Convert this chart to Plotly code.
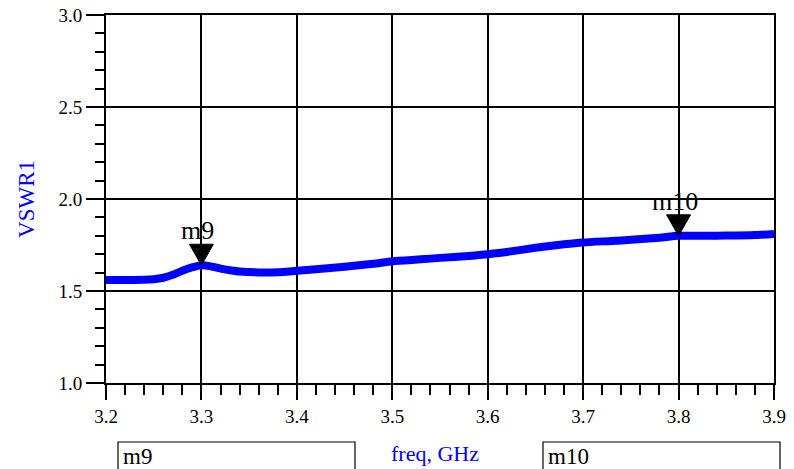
import plotly.graph_objects as go

freq = [3.20, 3.22, 3.24, 3.25, 3.26, 3.27, 3.28, 3.29, 3.30, 3.31, 3.32, 3.33, 3.34, 3.36, 3.38,
        3.40, 3.42, 3.45, 3.48, 3.50, 3.53, 3.55, 3.58, 3.60, 3.62, 3.65, 3.68, 3.70, 3.73, 3.75,
        3.78, 3.80, 3.83, 3.85, 3.88, 3.90]
vswr = [1.560, 1.560, 1.561, 1.564, 1.572, 1.588, 1.610, 1.628, 1.640, 1.634, 1.622, 1.613, 1.606, 1.601, 1.602,
        1.610, 1.618, 1.632, 1.648, 1.662, 1.672, 1.680, 1.690, 1.700, 1.712, 1.735, 1.754, 1.764, 1.772, 1.778,
        1.790, 1.800, 1.800, 1.801, 1.804, 1.810]

markers = [("m9", 3.30), ("m10", 3.80)]
xticks = [3.2, 3.3, 3.4, 3.5, 3.6, 3.7, 3.8, 3.9]
yticks = [1.0, 1.5, 2.0, 2.5, 3.0]

W, H = 794, 469
L, R, T, B = 106, 20, 15, 86
pw, ph = W - L - R, H - T - B

def px_to_paper_x(px):
    return (px - L) / pw

def px_to_paper_y(py):
    return (H - B - py) / ph

serif = "Liberation Serif, Times New Roman, serif"

fig = go.Figure()
fig.add_trace(go.Scatter(x=freq, y=vswr, mode="lines",
                         line=dict(color="#0000FF", width=8, shape="spline", smoothing=0.6),
                         showlegend=False))

shapes = []
annotations = []
for name, fx in markers:
    i = freq.index(fx)
    fy = vswr[i]
    shapes.append(dict(type="path", xref="x", yref="y", xsizemode="pixel", ysizemode="pixel",
                       xanchor=fx, yanchor=fy,
                       path="M -12 21 L 12 21 L 0 0 Z",
                       fillcolor="black", line=dict(color="black", width=1)))
    annotations.append(dict(x=fx, y=fy, xref="x", yref="y", text=name, showarrow=False,
                            yanchor="bottom", yshift=18, xshift=-4,
                            font=dict(family=serif, size=26, color="black")))

# marker readout boxes below the plot
boxes = [("m9", 118, 355), ("m10", 543, 780)]
for name, x0, x1 in boxes:
    shapes.append(dict(type="rect", xref="paper", yref="paper",
                       x0=px_to_paper_x(x0), x1=px_to_paper_x(x1),
                       y0=px_to_paper_y(442), y1=px_to_paper_y(480),
                       line=dict(color="black", width=1.2), fillcolor="white", layer="above"))
    annotations.append(dict(x=px_to_paper_x(x0 + 3), y=px_to_paper_y(456), xref="paper", yref="paper",
                            text=name, showarrow=False, xanchor="left", yanchor="middle",
                            font=dict(family=serif, size=23, color="black")))

annotations.append(dict(x=px_to_paper_x(435), y=px_to_paper_y(454), xref="paper", yref="paper",
                        text="freq, GHz", showarrow=False, xanchor="center", yanchor="middle",
                        font=dict(family=serif, size=22, color="#0000FF")))

fig.update_layout(
    width=W, height=H,
    margin=dict(l=L, r=R, t=T, b=B, autoexpand=False),
    plot_bgcolor="white", paper_bgcolor="white",
    shapes=shapes, annotations=annotations,
    font=dict(family=serif, size=19, color="black"),
)
fig.update_xaxes(range=[3.2, 3.9], tickvals=xticks, ticktext=[f"{v:.1f}" for v in xticks],
                 showgrid=True, gridcolor="black", gridwidth=2,
                 showline=True, linecolor="black", linewidth=2, mirror=True,
                 ticks="outside", ticklen=15, tickwidth=2, tickcolor="black",
                 minor=dict(dtick=0.02, tick0=3.2, ticks="outside", ticklen=10, tickwidth=2,
                            tickcolor="black", showgrid=False),
                 zeroline=False, automargin=False, ticklabeloverflow="allow",
                 tickfont=dict(family=serif, size=19))
fig.update_yaxes(range=[1.0, 3.0], tickvals=yticks, ticktext=[f"{v:.1f}" for v in yticks],
                 showgrid=True, gridcolor="black", gridwidth=2,
                 showline=True, linecolor="black", linewidth=2, mirror=True,
                 ticks="outside", ticklen=18, tickwidth=2, tickcolor="black",
                 minor=dict(dtick=0.1, tick0=1.0, ticks="outside", ticklen=9, tickwidth=2,
                            tickcolor="black", showgrid=False),
                 zeroline=False, automargin=False, ticklabeloverflow="allow",
                 tickfont=dict(family=serif, size=19),
                 title=dict(text="VSWR1", font=dict(family=serif, size=23, color="#0000FF"),
                            standoff=17))

fig.write_html("out.html", config={"displayModeBar": False},
               post_script="document.body.style.margin='0px';")
